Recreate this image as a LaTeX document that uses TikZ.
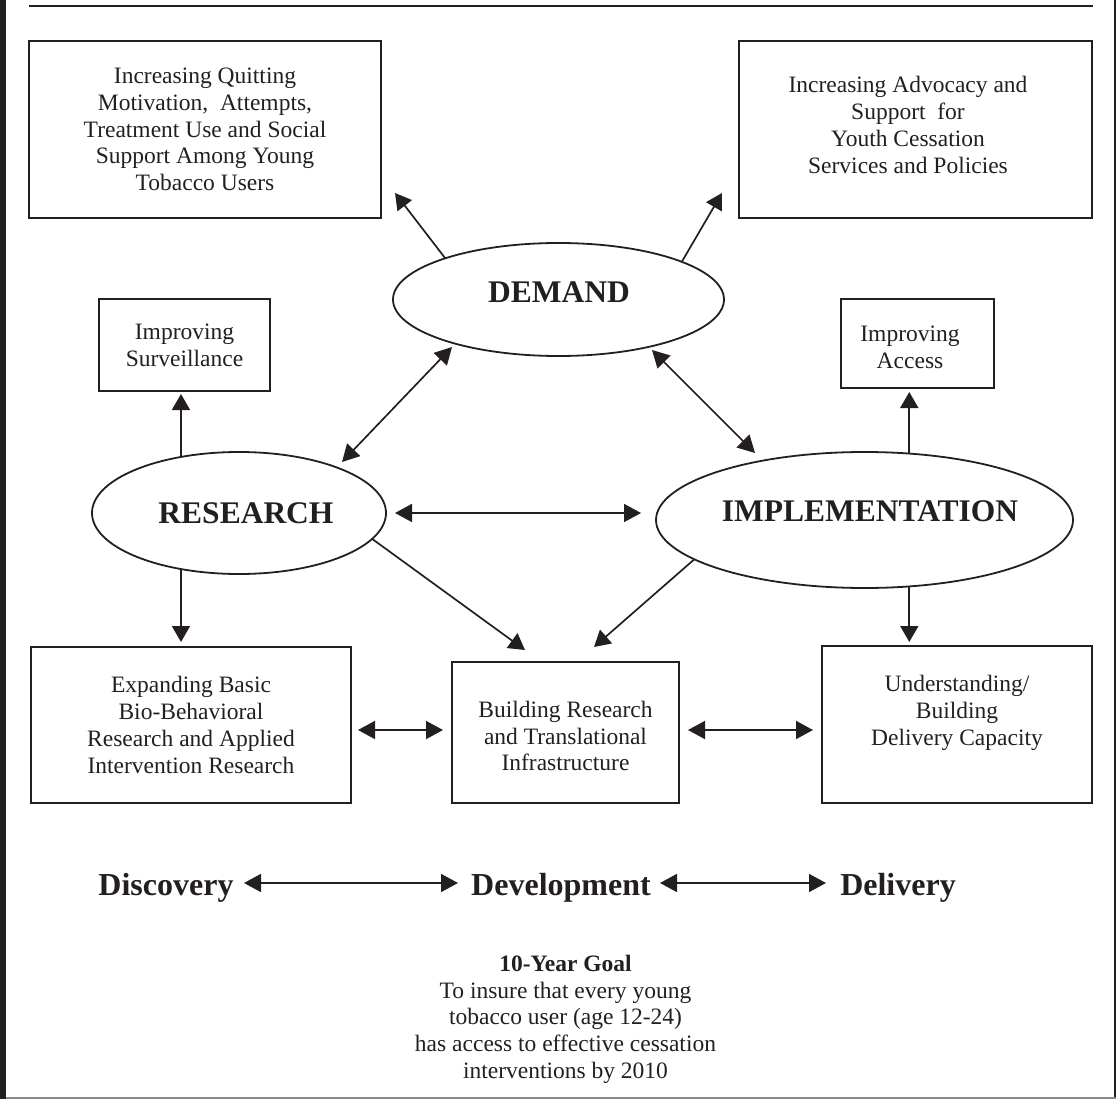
\documentclass[tikz,border=0pt]{standalone}
\usepackage{fontspec}
\setmainfont{Liberation Serif}
\usetikzlibrary{shapes.geometric,arrows.meta}
\definecolor{ink}{HTML}{231F20}
\definecolor{rule}{HTML}{8A8A8A}
\begin{document}
\begin{tikzpicture}[x=1pt,y=-1pt,
  every node/.style={text=ink},
  txt/.style={font=\fontsize{23.5}{26.7}\selectfont, align=center, inner sep=0pt},
  box/.style={txt, draw=ink, line width=2pt, rectangle, outer sep=0pt},
  oval/.style={draw=ink, line width=1.8pt, ellipse, inner sep=0pt, outer sep=0pt},
  hub/.style={font=\fontsize{31.5}{36}\selectfont\bfseries, inner sep=0pt},
  stage/.style={font=\fontsize{32}{36}\selectfont\bfseries, inner sep=0pt, anchor=base},
  arr/.style={draw=ink, line width=1.7pt, -{Triangle[length=16pt,width=18pt]}},
  dbl/.style={draw=ink, line width=1.7pt, {Triangle[length=17pt,width=18pt]}-{Triangle[length=17pt,width=18pt]}},
]
\useasboundingbox (0,0) rectangle (1116,1099);

% page frame and top rule
\fill[ink] (0,0) rectangle (5.5,1099);
\draw[ink, line width=2pt] (1115,0) -- (1115,1099);
\draw[rule, line width=1.6pt] (5.5,1098.2) -- (1116,1098.2);
\draw[ink, line width=2.2pt] (29,6) -- (1093,6);

% outcome boxes
\node[box, minimum width=352pt, minimum height=177pt] (quit) at (205,129.5)
  {Increasing Quitting\\Motivation,\ \ Attempts,\\Treatment Use and Social\\Support Among Young\\Tobacco Users};
\node[box, minimum width=353pt, minimum height=177pt] (advo) at (915.5,129.5) {};
\node[txt] (advotext) at (908,125)
  {Increasing Advocacy and\\Support\ \ for\\Youth Cessation\\Services and Policies};
\node[box, minimum width=171pt, minimum height=92pt] (surv) at (184.5,345) {Improving\\Surveillance};
\node[box, minimum width=153pt, minimum height=89pt] (acc) at (917.5,343.5) {};
\node[txt] (acctext) at (910,347) {Improving\\Access};
\node[box, minimum width=320pt, minimum height=156pt] (expand) at (191,725)
  {Expanding Basic\\Bio-Behavioral\\Research and Applied\\Intervention Research};
\node[box, minimum width=227pt, minimum height=141pt] (build) at (565.5,732.5) {};
\node[txt] (buildtext) at (565.5,736) {Building Research\\and Translational\\Infrastructure};
\node[box, minimum width=270pt, minimum height=157pt] (under) at (957,724.5) {};
\node[txt] (undertext) at (957,713) {Understanding/\\Building\\Delivery Capacity};

% the three hubs
\node[oval, minimum width=331pt, minimum height=113pt] (dem) at (558.5,299.5) {};
\node[hub] (demtext) at (559,292) {DEMAND};
\node[oval, minimum width=294pt, minimum height=122pt] (res) at (239,513) {};
\node[hub] (restext) at (246,513) {RESEARCH};
\node[oval, minimum width=417pt, minimum height=136pt] (imp) at (864.5,520) {};
\node[hub] (imptext) at (870,511) {IMPLEMENTATION};

% free arrow ends
\coordinate (quitin) at (395,193);
\coordinate (advoin) at (722,193);
\coordinate (dr1) at (452,347);
\coordinate (dr2) at (342,462);
\coordinate (di1) at (652,350);
\coordinate (di2) at (755,453);
\coordinate (ri1) at (395,513);
\coordinate (ri2) at (641,513);
\coordinate (survin) at (0,394);
\coordinate (expin) at (0,642);
\coordinate (accin) at (0,392);
\coordinate (undin) at (0,642);
\coordinate (bin1) at (525,650);
\coordinate (bin2) at (594,647);
\coordinate (eb1) at (358,730);
\coordinate (eb2) at (443,730);
\coordinate (bu1) at (688,730);
\coordinate (bu2) at (813,730);

% connectors
\draw[arr] (dem.160.2) -- (quitin);
\draw[arr] (dem.17.7) -- (advoin);
\draw[dbl] (dr1) -- (dr2);
\draw[dbl] (di1) -- (di2);
\draw[dbl] (ri1) -- (ri2);
\draw[arr] (res.136) -- (res.136 |- survin);
\draw[arr] (res.-136) -- (res.-136 |- expin);
\draw[arr] (imp.56.8) -- (imp.56.8 |- accin);
\draw[arr] (imp.-56.8) -- (imp.-56.8 |- undin);
\draw[arr] (res.-11.6) -- (bin1);
\draw[arr] (imp.-167.9) -- (bin2);
\draw[dbl] (eb1) -- (eb2);
\draw[dbl] (bu1) -- (bu2);

% discovery - development - delivery
\node[stage] (disc) at (166,895) {Discovery};
\node[stage] (devel) at (561,895) {Development};
\node[stage] (deliv) at (898,895) {Delivery};
\coordinate (s1) at (244,883);
\coordinate (s2) at (458,883);
\coordinate (s3) at (660,883);
\coordinate (s4) at (826,883);
\draw[dbl] (s1) -- (s2);
\draw[dbl] (s3) -- (s4);

% goal statement
\node[txt, anchor=north] (goal) at (565.5,955)
  {\textbf{10-Year Goal}\\To insure that every young\\tobacco user (age 12-24)\\has access to effective cessation\\interventions by 2010};
\end{tikzpicture}
\end{document}
